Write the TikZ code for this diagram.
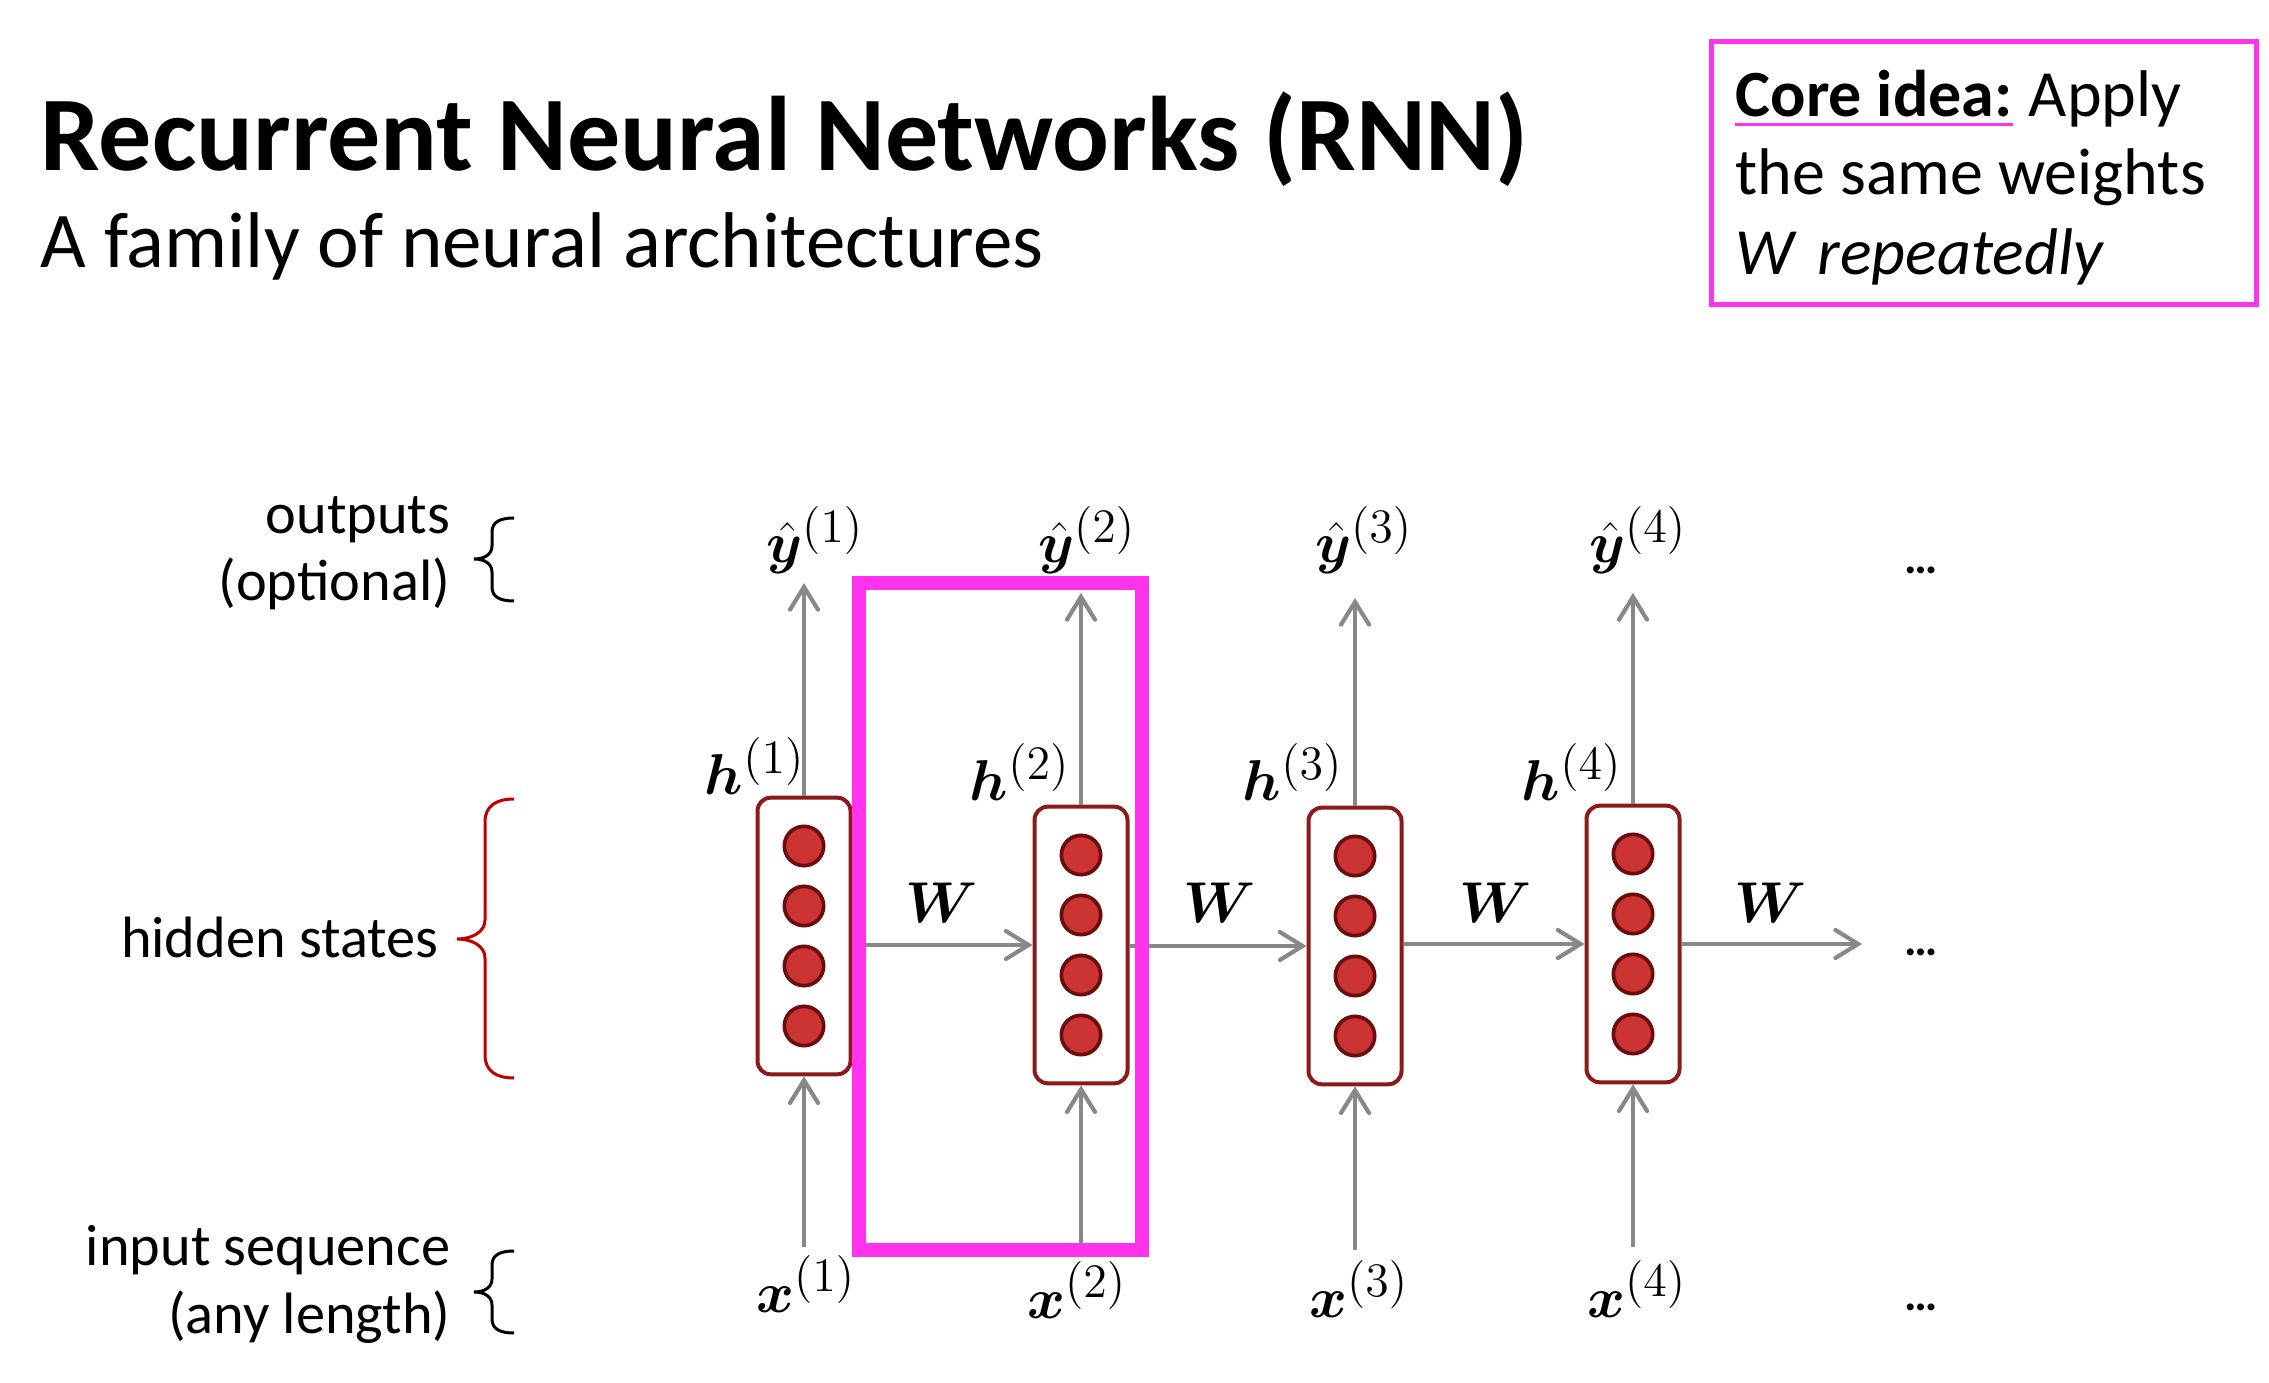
\documentclass[tikz,border=0pt]{standalone}
\usepackage{amsmath}
\usepackage{bm}
\usepackage{fontspec}
\setmainfont{Carlito}
\usetikzlibrary{arrows.meta}
% larger script size for the sequence indices
\DeclareMathSizes{18}{18}{14}{10}

\definecolor{rnnred}{RGB}{139,26,26}
\definecolor{unitfill}{RGB}{204,51,51}
\definecolor{unitedge}{RGB}{107,13,13}
\definecolor{flowgray}{RGB}{136,136,136}
\definecolor{hilite}{RGB}{255,51,235}
\definecolor{bracered}{RGB}{192,0,0}

\tikzset{
  cell/.style={draw=rnnred, line width=1.2pt, rounded corners=4pt, fill=white,
    minimum width=27.9pt, minimum height=83pt, inner sep=0pt},
  unit/.style={circle, draw=unitedge, fill=unitfill, line width=1.1pt,
    minimum size=11.8pt, inner sep=0pt},
  flow/.style={draw=flowgray, line width=1.25pt,
    -{Straight Barb[length=6.8pt,width=8.4pt,line cap=round]}},
  mlabel/.style={font=\fontsize{18}{21}\selectfont, inner sep=0pt, anchor=base},
  sidelabel/.style={font=\fontsize{17.5}{21}\selectfont, inner sep=0pt, anchor=base east},
  txt/.style={inner sep=0pt, anchor=base west},
  dots/.style={font=\bfseries\fontsize{14}{16}\selectfont, inner sep=0pt, anchor=base},
  bracepath/.style={line width=0.9pt},
}

\begin{document}
\begin{tikzpicture}[x=0.3pt, y=-0.3pt]
\useasboundingbox[fill=white] (0,0) rectangle (2269,1383);

% heading
\node[txt, font=\bfseries\fontsize{31.8}{38}\selectfont] (title) at (40,171)
  {Recurrent Neural Networks (RNN)};
\node[txt, font=\fontsize{23.7}{28}\selectfont] (subtitle) at (40,268)
  {A family of neural architectures};

% core idea box
\draw[hilite, line width=1.5pt] (1711,42) rectangle (2256,305);
\node[txt, font=\bfseries\fontsize{19.8}{24}\selectfont] (corehead) at (1735,117) {Core idea:};
\node[txt, font=\fontsize{19.8}{24}\selectfont] (coreA) at ([xshift=4.5pt]corehead.base east) {Apply};
\draw[hilite, line width=0.9pt] ([yshift=-2.4pt]corehead.base west) -- ([yshift=-2.4pt]corehead.base east);
\node[txt, font=\fontsize{19.8}{24}\selectfont] (coreB) at (1735,195) {the same weights};
\node[txt, font=\itshape\fontsize{19.8}{24}\selectfont] (coreC) at (1735,275) {W\hspace{0.35em}repeatedly};

% row captions
\node[sidelabel] (out1) at (451,534) {outputs};
\node[sidelabel] (out2) at (451,601) {(optional)};
\node[sidelabel] (hid) at (439,957) {hidden states};
\node[sidelabel] (in1) at (451,1265) {input sequence};
\node[sidelabel] (in2) at (451,1333) {(any length)};

% braces
\draw[bracepath] (514,518) .. controls (500,518) and (492,522) .. (492,532)
  -- (492,546) .. controls (492,554) and (485,559) .. (474,559)
  .. controls (485,559) and (492,564) .. (492,572)
  -- (492,587) .. controls (492,597) and (500,601) .. (514,601);
\draw[bracepath, bracered] (514,799) .. controls (496,799) and (485,806) .. (485,822)
  -- (485,920) .. controls (485,932) and (472,939) .. (457,939)
  .. controls (472,939) and (485,946) .. (485,958)
  -- (485,1055) .. controls (485,1071) and (496,1078) .. (514,1078);
\draw[bracepath] (514,1251) .. controls (500,1251) and (492,1255) .. (492,1265)
  -- (492,1279) .. controls (492,1287) and (485,1292) .. (474,1292)
  .. controls (485,1292) and (492,1297) .. (492,1305)
  -- (492,1319) .. controls (492,1329) and (500,1333) .. (514,1333);

% hidden state cells
\node[cell] (h1) at (804,936) {};
\node[cell] (h2) at (1081,945) {};
\node[cell] (h3) at (1355,946) {};
\node[cell] (h4) at (1633,944) {};
\foreach \k in {1,...,4}{
  \foreach \j/\s in {a/27, b/9, c/-9, d/-27}{
    \node[unit] (u\k\j) at ([yshift=\s pt]h\k.center) {};
  }
}

% free ends of the vertical and trailing connectors
\coordinate (o1) at (804,583);
\coordinate (o2) at (1081,593);
\coordinate (o3) at (1355,598);
\coordinate (o4) at (1633,593);
\coordinate (i1) at (804,1247);
\coordinate (i2) at (1081,1247);
\coordinate (i3) at (1355,1250);
\coordinate (i4) at (1633,1247);
\coordinate (hend) at (1862,944);

% connectors
\foreach \k in {1,...,4}{
  \draw[flow] (h\k.north) -- (o\k);
  \draw[flow] (i\k) -- (h\k.south);
}
\draw[flow] (h1.east |- h2.west) -- (h2.west);
\draw[flow] (h2.east |- h3.west) -- (h3.west);
\draw[flow] (h3.east |- h4.west) -- (h4.west);
\draw[flow] (h4.east) -- (hend);

% labels
\node[mlabel] (yh1) at (815,563) {$\bm{\hat{y}}^{(1)}$};
\node[mlabel] (yh2) at (1087,563) {$\bm{\hat{y}}^{(2)}$};
\node[mlabel] (yh3) at (1364,563) {$\bm{\hat{y}}^{(3)}$};
\node[mlabel] (yh4) at (1638,563) {$\bm{\hat{y}}^{(4)}$};

\node[mlabel] (hl1) at (755,794) {$\bm{h}^{(1)}$};
\node[mlabel] (hl2) at (1020,800) {$\bm{h}^{(2)}$};
\node[mlabel] (hl3) at (1293,800) {$\bm{h}^{(3)}$};
\node[mlabel] (hl4) at (1572,800) {$\bm{h}^{(4)}$};

\node[mlabel] (w1) at (942,922) {$\bm{W}$};
\node[mlabel] (w2) at (1220,922) {$\bm{W}$};
\node[mlabel] (w3) at (1496,922) {$\bm{W}$};
\node[mlabel] (w4) at (1771,922) {$\bm{W}$};

\node[mlabel] (x1) at (806,1312) {$\bm{x}^{(1)}$};
\node[mlabel] (x2) at (1077,1318) {$\bm{x}^{(2)}$};
\node[mlabel] (x3) at (1359,1317) {$\bm{x}^{(3)}$};
\node[mlabel] (x4) at (1637,1317) {$\bm{x}^{(4)}$};

\node[dots] (d1) at (1921,574) {…};
\node[dots] (d2) at (1921,955) {…};
\node[dots] (d3) at (1921,1310) {…};

% shared-weights highlight frame
\draw[hilite, line width=4.2pt] (859,583) rectangle (1142,1250);
\end{tikzpicture}
\end{document}
